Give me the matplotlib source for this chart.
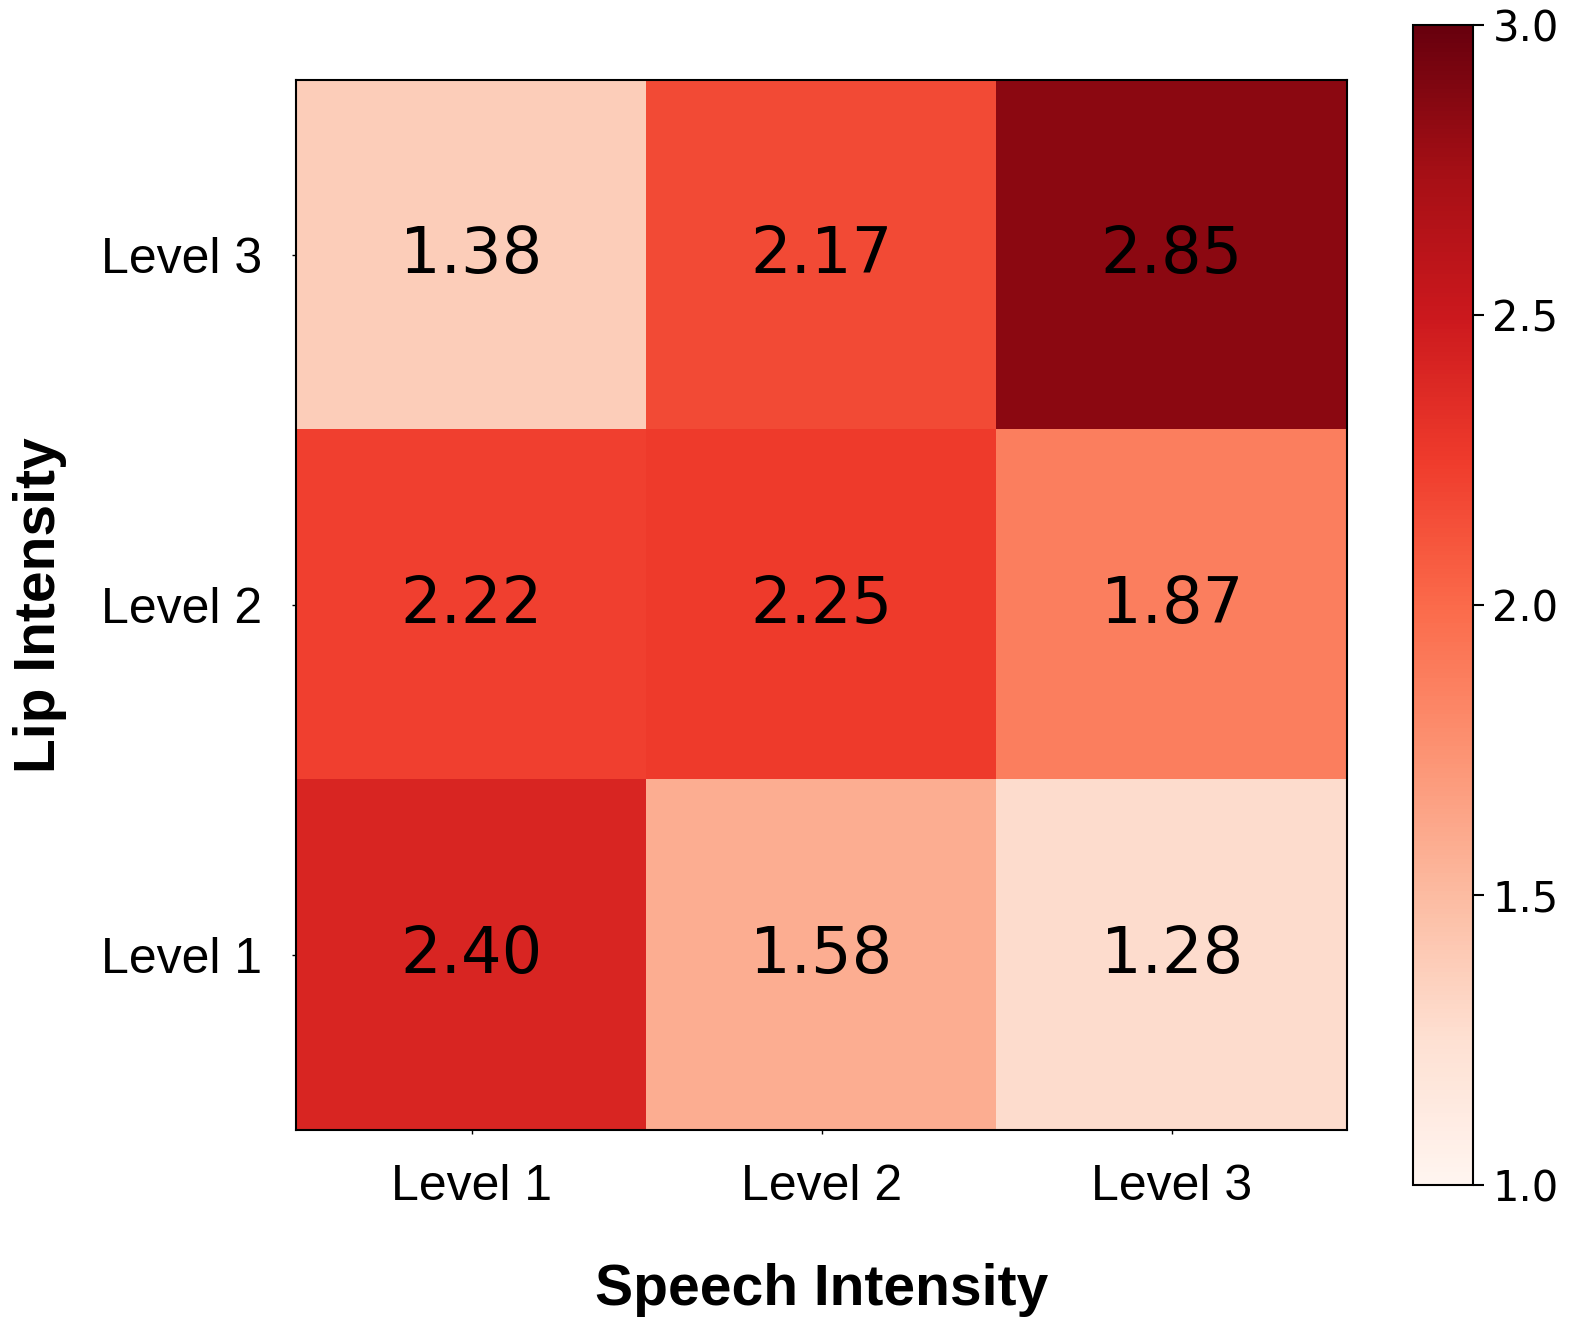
import numpy as np
import matplotlib
matplotlib.use("Agg")
import matplotlib.pyplot as plt

speech_levels = ["Level 1", "Level 2", "Level 3"]
lip_levels = ["Level 1", "Level 2", "Level 3"]
# rows: lip level 3 (top) -> lip level 1 (bottom)
scores = np.array([
    [1.38, 2.17, 2.85],
    [2.22, 2.25, 1.87],
    [2.40, 1.58, 1.28],
])
cbar_ticks = [1.0, 1.5, 2.0, 2.5, 3.0]

fig = plt.figure(figsize=(15.77, 13.26), dpi=100)
ax = fig.add_axes([0.188, 0.148, 0.666, 0.792])
cax = fig.add_axes([0.896, 0.106, 0.038, 0.875])

im = ax.imshow(scores, cmap="Reds", vmin=1, vmax=3, aspect="auto")
for i in range(scores.shape[0]):
    for j in range(scores.shape[1]):
        ax.text(j, i, f"{scores[i, j]:.2f}", ha="center", va="center",
                fontsize=46, color="black", family="DejaVu Sans")

ax.set_xticks(range(3))
ax.set_xticklabels(speech_levels, fontsize=36, family="Liberation Sans")
ax.set_yticks(range(3))
ax.set_yticklabels(lip_levels[::-1], fontsize=36, family="Liberation Sans")
ax.tick_params(length=3, width=1, pad=22)
for s in ax.spines.values():
    s.set_linewidth(1.5)

ax.set_xlabel("Speech Intensity", fontsize=41, fontweight="bold",
              family="Liberation Sans", labelpad=38)
ax.set_ylabel("Lip Intensity", fontsize=41, fontweight="bold",
              family="Liberation Sans", labelpad=24)

cb = fig.colorbar(im, cax=cax, ticks=cbar_ticks)
cb.ax.tick_params(labelsize=30, length=8, width=1.5, pad=6)
cb.outline.set_linewidth(1.5)

fig.savefig("out.png", dpi=100)
